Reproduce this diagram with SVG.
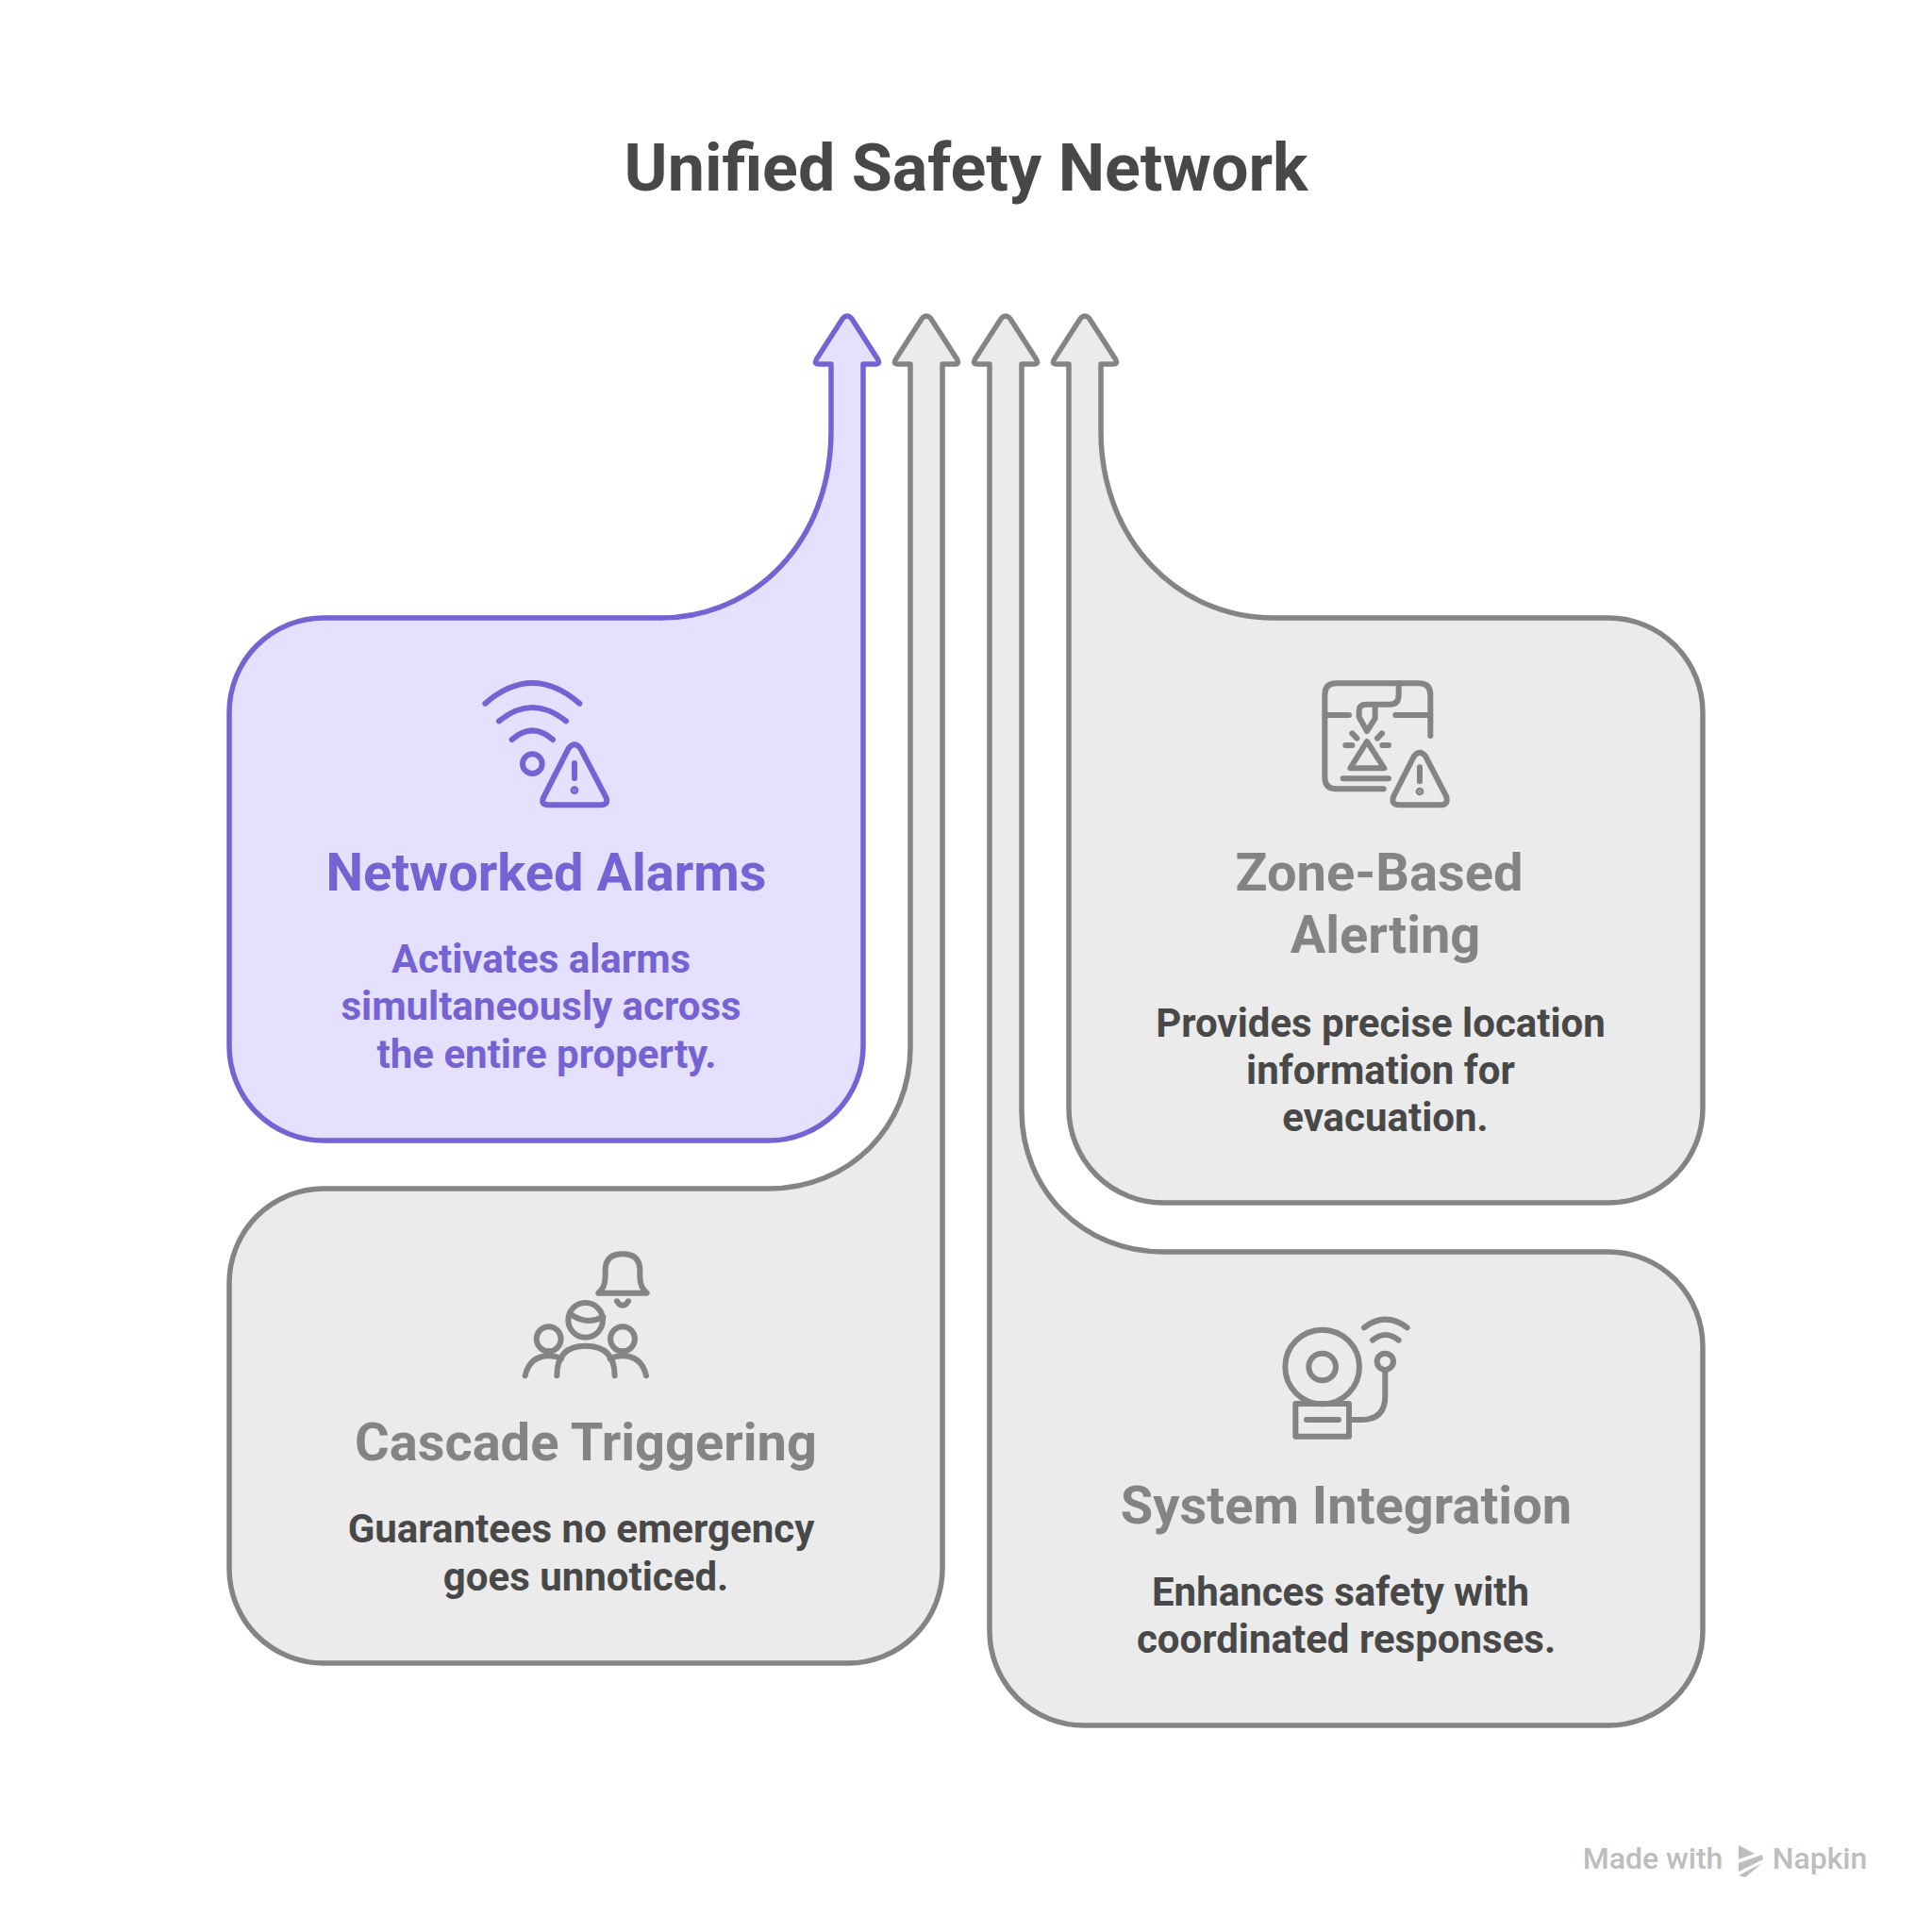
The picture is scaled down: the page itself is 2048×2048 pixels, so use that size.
<svg xmlns="http://www.w3.org/2000/svg" width="2048" height="2048" viewBox="0 0 2048 2048">
<style>
text{font-family:Roboto,"Liberation Sans",sans-serif;text-anchor:middle;font-weight:700}
.p{fill:#e6e0ff;stroke:#7563d4;stroke-width:5.5;stroke-linejoin:round}
.g{fill:#ebebeb;stroke:#848484;stroke-width:5.5;stroke-linejoin:round}
.ip,.ig{fill:none;stroke-width:18;stroke-linecap:round;stroke-linejoin:round}
.ip{stroke:#7563d4}.ig{stroke:#848484}
.h{font-size:56px}.d{font-size:42px}
.hp{fill:#7563d4}.hg{fill:#848484}.dk{fill:#484848}
.w{font-size:32px;font-weight:500;fill:#bdbdbd}
</style>
<rect width="2048" height="2048" fill="#fff"/>
<text id="title" x="1024" y="201.5" font-size="70" class="dk">Unified Safety Network</text>
<g id="connectors">
<path id="arrow-networked" class="p" d="M881 386H868Q862 386 866 380L893 338Q898 332 903 338L930 380Q934 386 928 386H915V1109A100 100 0 0 1 815 1209H343A100 100 0 0 1 243 1109V755A100 100 0 0 1 343 655H700C800 655 881 574 881 457Z"/>
<path id="arrow-cascade" class="g" d="M965 386H952Q946 386 950 380L977 338Q982 332 987 338L1014 380Q1018 386 1012 386H999V1663A100 100 0 0 1 899 1763H343A100 100 0 0 1 243 1663V1360A100 100 0 0 1 343 1260H815C900 1260 965 1195 965 1110Z"/>
<path id="arrow-integration" class="g" d="M1049 386H1036Q1030 386 1034 380L1061 338Q1066 332 1071 338L1098 380Q1102 386 1096 386H1083V1177C1083 1262 1148 1327 1233 1327H1705A100 100 0 0 1 1805 1427V1729A100 100 0 0 1 1705 1829H1149A100 100 0 0 1 1049 1729Z"/>
<path id="arrow-zone" class="g" d="M1133 386H1120Q1114 386 1118 380L1145 338Q1150 332 1155 338L1182 380Q1186 386 1180 386H1167V457C1167 574 1250 655 1350 655H1705A100 100 0 0 1 1805 755V1175A100 100 0 0 1 1705 1275H1233A100 100 0 0 1 1133 1175Z"/>
</g>
<g id="node-networked">
<g transform="translate(480 700) scale(.3333)" class="ip">
<path d="M103 137Q253 7 403 137M147 193Q253 107 360 193M188 252Q253 194 318 252"/>
<circle cx="253" cy="329" r="31"/>
<path d="M368 280Q387 256 406 280L486 433Q498 460 470 460H305Q276 460 290 433Z"/>
<path d="M387 327V375"/>
<circle cx="387" cy="413" r="4" fill="#7563d4"/>
</g>
<text x="579" y="943.5" class="h hp">Networked Alarms</text>
<text class="d hp"><tspan x="573.5" y="1031">Activates alarms</tspan><tspan x="573.5" y="1081">simultaneously across</tspan><tspan x="579.5" y="1132">the entire property.</tspan></text>
</g>
<g id="node-zone">
<g transform="translate(1380 700) scale(.3333)" class="ig">
<path d="M260 409H110Q73 409 73 372V110Q73 73 110 73H372Q409 73 409 110V240"/>
<path d="M73 174H150M298 174H409M308 73V110Q308 140 280 140H205Q182 140 182 160V180L207 225L233 185V140"/>
<path d="M160 232L175 248M255 232L240 248M139 270H160M256 270H276M207 258L262 343H154ZM131 376H276"/>
<path d="M357 304Q375 282 393 304L459 432Q468 460 440 460H310Q282 460 292 432Z"/>
<path d="M375 340V385"/>
<circle cx="375" cy="417" r="4" fill="#848484"/>
</g>
<text class="h hg"><tspan x="1462" y="943.5">Zone-Based</tspan><tspan x="1468.5" y="1010">Alerting</tspan></text>
<text class="d dk"><tspan x="1463.5" y="1098.5">Provides precise location</tspan><tspan x="1463.5" y="1148.5">information for</tspan><tspan x="1468.5" y="1199">evacuation.</tspan></text>
</g>
<g id="node-cascade">
<g transform="translate(540 1310) scale(.3333)" class="ig">
<path d="M283 182Q305 165 305 130V110Q305 58 360 58Q415 58 415 110V130Q415 165 437 182ZM342 208Q360 235 378 208"/>
<circle cx="242" cy="268" r="55"/>
<path d="M195 250Q245 285 298 258"/>
<circle cx="125" cy="328" r="39"/><circle cx="360" cy="328" r="39"/>
<path d="M151 445Q151 350 242 350Q335 350 335 445M50 445Q65 382 125 382Q150 382 165 392M435 445Q420 382 360 382Q335 382 320 392"/>
</g>
<text x="621" y="1547.5" class="h hg">Cascade Triggering</text>
<text class="d dk"><tspan x="616" y="1634.5">Guarantees no emergency</tspan><tspan x="621" y="1685.5">goes unnoticed.</tspan></text>
</g>
<g id="node-integration">
<g transform="translate(1340 1380) scale(.3333)" class="ig">
<circle cx="185" cy="207" r="118"/><circle cx="185" cy="207" r="43"/>
<rect x="100" y="324" width="170" height="104"/>
<path d="M135 375H237M270 375H310Q385 375 385 300V222"/>
<circle cx="385" cy="190" r="26"/>
<path d="M345 122Q386 88 428 122M318 82Q386 30 455 82"/>
</g>
<text x="1427" y="1614.5" class="h hg">System Integration</text>
<text class="d dk"><tspan x="1421" y="1702">Enhances safety with</tspan><tspan x="1427" y="1752">coordinated responses.</tspan></text>
</g>
<g id="watermark" fill="#bdbdbd">
<text x="1752" y="1981" class="w">Made with</text>
<text x="1929" y="1981" class="w">Napkin</text>
<path d="M1843 1956L1860 1965L1843 1971ZM1843 1975L1868 1966L1869 1971L1843 1984ZM1843 1988L1868 1975L1850 1990Z"/>
</g>
</svg>
